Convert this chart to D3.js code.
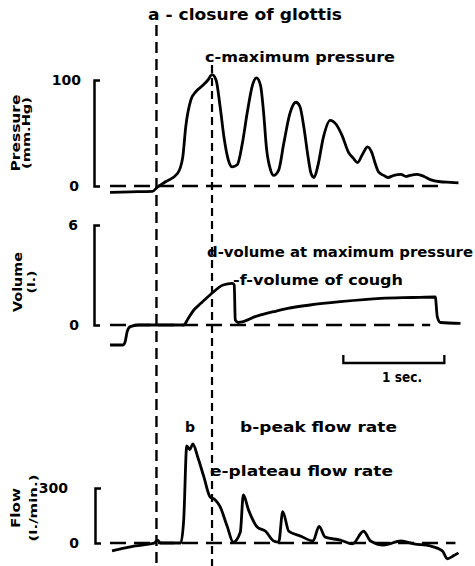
<!DOCTYPE html>
<html>
<head>
<meta charset="utf-8">
<script src="https://cdn.jsdelivr.net/npm/d3@7"></script>
<style>
  html, body { margin: 0; padding: 0; background: #fff; }
  svg text { font-family: "DejaVu Sans", sans-serif; font-weight: bold; fill: #000; }
</style>
</head>
<body>
<svg id="chart" width="475" height="566"></svg>
<script>
// time in seconds, 0 = closure of glottis (a)
const pressure = [
    [-0.46, -6], [-0.26, -5.5], [-0.04, -5], [0.01, -1], [0.09, 4], [0.21, 12], [0.26, 27],
    [0.29, 56], [0.34, 81], [0.39, 89], [0.46, 95], [0.51, 100], [0.55, 105], [0.59, 100],
    [0.63, 75], [0.67, 45], [0.71, 25], [0.75, 18], [0.80, 20], [0.85, 40], [0.90, 70],
    [0.95, 95], [0.99, 102], [1.03, 95], [1.06, 70], [1.09, 35], [1.13, 15], [1.16, 10],
    [1.21, 15], [1.26, 40], [1.32, 68], [1.38, 79], [1.42, 75], [1.46, 55], [1.50, 28],
    [1.53, 12], [1.56, 8], [1.60, 20], [1.65, 45], [1.72, 62], [1.78, 58], [1.84, 47],
    [1.90, 32], [1.95, 26], [1.99, 22], [2.04, 30], [2.09, 37], [2.13, 32], [2.17, 20],
    [2.20, 13], [2.25, 10], [2.29, 8], [2.35, 10], [2.42, 11], [2.47, 9], [2.51, 10],
    [2.58, 11], [2.65, 9], [2.71, 6], [2.81, 4], [2.91, 3.5], [2.99, 3]
];

const volume = [
    [-0.46, -1.2], [-0.33, -1.2], [-0.31, -1.0], [-0.29, -0.4], [-0.26, -0.1], [-0.18, 0],
    [0.27, 0], [0.31, 0.35], [0.37, 0.9], [0.44, 1.3], [0.53, 1.8], [0.66, 2.4], [0.75, 2.5],
    [0.77, 2.4], [0.78, 0.3], [0.81, 0.15], [1.00, 0.55], [1.16, 0.8], [1.30, 1.0],
    [1.52, 1.2], [1.82, 1.4], [2.22, 1.6], [2.54, 1.65], [2.76, 1.68], [2.78, 0.5],
    [2.81, 0.15], [3.01, 0.1]
];

const flow = [
    [-0.44, -43], [-0.31, -27], [-0.21, -16], [-0.06, -5], [-0.02, 0], [0.01, 16], [0.04, 0],
    [0.24, 0], [0.27, 129], [0.30, 530], [0.33, 510], [0.36, 540], [0.41, 466], [0.47, 359],
    [0.53, 252], [0.58, 236], [0.63, 198], [0.70, 91], [0.76, 5], [0.83, 59], [0.86, 262],
    [0.91, 182], [1.00, 86], [1.08, 64], [1.16, 11], [1.21, 5], [1.25, 171], [1.31, 64],
    [1.43, 37], [1.55, 11], [1.61, 91], [1.67, 32], [1.82, 16], [1.94, -5], [2.05, 64],
    [2.12, 11], [2.25, -11], [2.42, 11], [2.55, -5], [2.71, -16], [2.83, -43], [2.88, -86],
    [2.94, -70], [2.99, -54]
];

const pressureTicks = ["0", "100"];
const volumeTicks = ["0", "6"];
const flowTicks = ["0", "300"];

const markerA = 0;      // closure of glottis
const markerC = 0.55;   // maximum pressure
const secondBar = [1.85, 2.85];

const svg = d3.select("#chart");

const x = d3.scaleLinear().domain([-0.46, 3.0]).range([110, 459.5]);

const panels = [
    { name: "Pressure", unit: "(mm.Hg)", data: pressure, ticks: pressureTicks,
      y: d3.scaleLinear().domain([0, 100]).range([186, 80]), zeroEnd: 2.86, bracketX: 94,
      tickX: [79, 81], nameX: 20, nameLen: 77, unitX: 30, unitLen: 72, labelY: 133 },
    { name: "Volume", unit: "(l.)", data: volume, ticks: volumeTicks,
      y: d3.scaleLinear().domain([0, 6]).range([325, 225]), zeroEnd: 2.71, bracketX: 94,
      tickX: [79, 78], nameX: 22, nameLen: 60, unitX: 35, unitLen: 23, labelY: 282 },
    { name: "Flow", unit: "(l./min.)", data: flow, ticks: flowTicks,
      y: d3.scaleLinear().domain([0, 300]).range([543, 488]), zeroEnd: 2.96, bracketX: 95,
      tickX: [79, 68], nameX: 20, nameLen: 40, unitX: 37, unitLen: 67, labelY: 508 }
];

const line = d3.line().curve(d3.curveMonotoneX);

panels.forEach(p => {
    const g = svg.append("g");

    // bracket scale
    g.append("g")
        .attr("transform", `translate(${p.bracketX},0)`)
        .call(d3.axisRight(p.y).tickValues([]).tickSizeOuter(6))
        .call(a => a.select(".domain").attr("stroke-width", 2.5).attr("stroke", "#000"));

    p.y.domain().forEach((v, i) => {
        g.append("text")
            .attr("x", p.tickX[i])
            .attr("y", p.y(v))
            .attr("dy", "0.36em")
            .attr("text-anchor", "end")
            .style("font-size", "14px")
            .text(p.ticks[i]);
    });

    // rotated axis titles
    g.append("text")
        .attr("transform", `translate(${p.nameX},${p.labelY}) rotate(-90)`)
        .attr("text-anchor", "middle")
        .attr("textLength", p.nameLen)
        .attr("lengthAdjust", "spacingAndGlyphs")
        .style("font-size", "12px")
        .text(p.name);
    g.append("text")
        .attr("transform", `translate(${p.unitX},${p.labelY}) rotate(-90)`)
        .attr("text-anchor", "middle")
        .attr("textLength", p.unitLen)
        .attr("lengthAdjust", "spacingAndGlyphs")
        .style("font-size", "11px")
        .text(p.unit);

    // zero baseline
    g.append("line")
        .attr("x1", x(-0.46)).attr("x2", x(p.zeroEnd))
        .attr("y1", p.y(0)).attr("y2", p.y(0))
        .attr("stroke", "#000").attr("stroke-width", 2.3)
        .attr("stroke-dasharray", "16,8");

    g.append("path")
        .datum(p.data)
        .attr("d", line.x(d => x(d[0])).y(d => p.y(d[1])))
        .attr("fill", "none")
        .attr("stroke", "#000")
        .attr("stroke-width", 2.8)
        .attr("stroke-linejoin", "round");
});

// vertical markers
svg.append("line")
    .attr("x1", x(markerA)).attr("x2", x(markerA))
    .attr("y1", 25).attr("y2", 566)
    .attr("stroke", "#000").attr("stroke-width", 2.4)
    .attr("stroke-dasharray", "11,6");
svg.append("line")
    .attr("x1", x(markerC)).attr("x2", x(markerC))
    .attr("y1", 65).attr("y2", 566)
    .attr("stroke", "#000").attr("stroke-width", 2.2)
    .attr("stroke-dasharray", "8,5");

// 1 second bar
svg.append("path")
    .attr("d", `M${x(secondBar[0])},355 V363 H${x(secondBar[1])} V355`)
    .attr("fill", "none").attr("stroke", "#000").attr("stroke-width", 2.3);

const notes = [
    { text: "a - closure of glottis", x: 148, y: 20, len: 194, size: 15 },
    { text: "c-maximum pressure", x: 205, y: 62, len: 190, size: 14 },
    { text: "d-volume at maximum pressure", x: 207, y: 257, len: 266, size: 14 },
    { text: "-f-volume of cough", x: 233, y: 285, len: 170, size: 14 },
    { text: "1 sec.", x: 382, y: 382, len: 40, size: 14 },
    { text: "b", x: 185, y: 432, len: null, size: 14 },
    { text: "b-peak flow rate", x: 240, y: 432, len: 157, size: 14 },
    { text: "e-plateau flow rate", x: 210, y: 476, len: 183, size: 14 }
];

notes.forEach(n => {
    const t = svg.append("text")
        .attr("x", n.x).attr("y", n.y)
        .style("font-size", n.size + "px")
        .text(n.text);
    if (n.len) t.attr("textLength", n.len).attr("lengthAdjust", "spacingAndGlyphs");
});
</script>
</body>
</html>
